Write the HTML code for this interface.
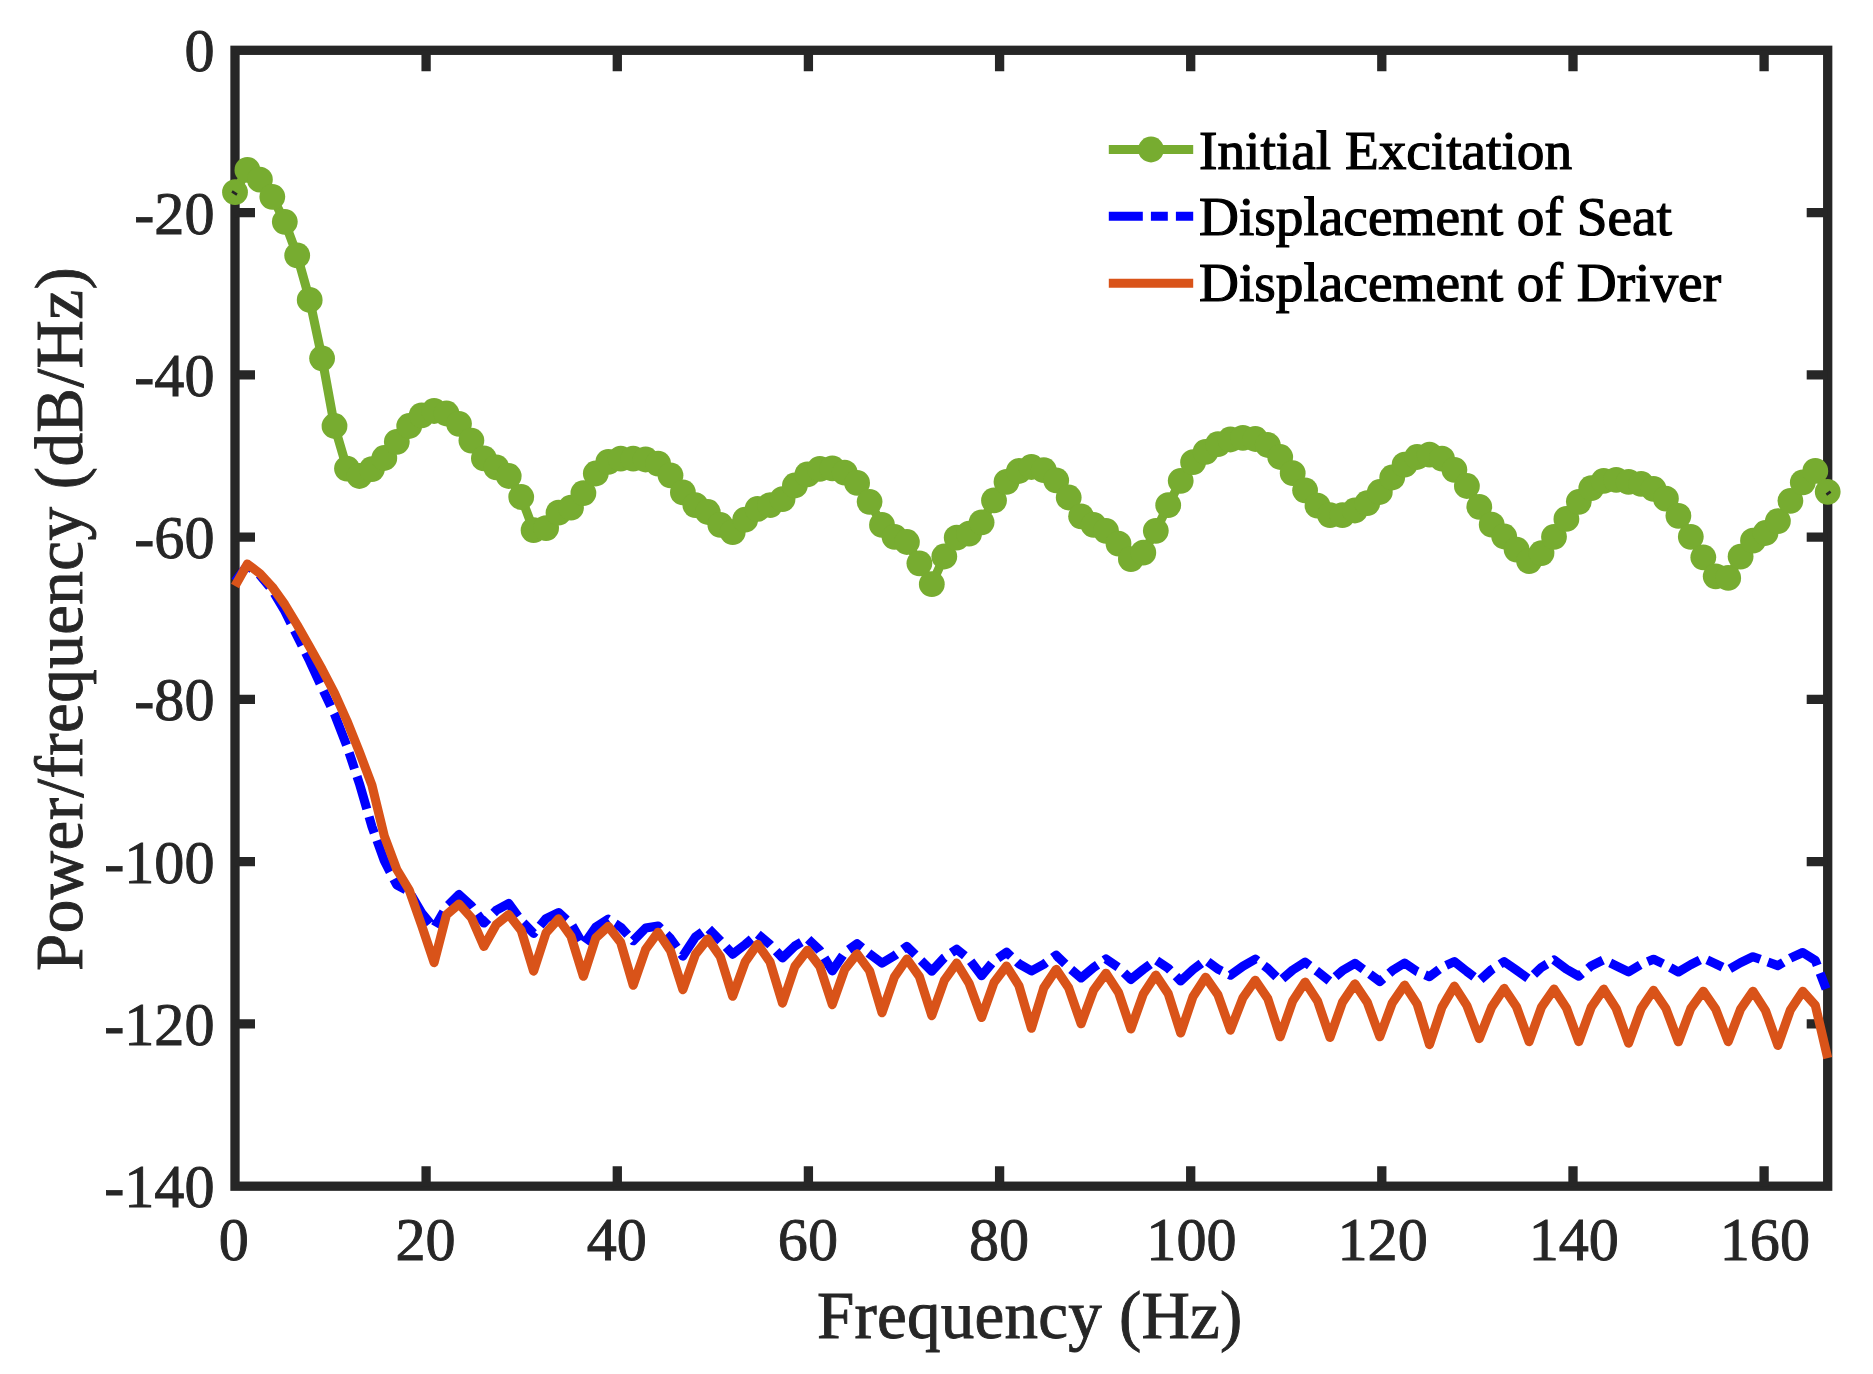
<!DOCTYPE html>
<html lang="en"><head><meta charset="utf-8"><title>Power spectral density</title>
<style>html,body{margin:0;padding:0;background:#fff}body{width:1873px;height:1374px;overflow:hidden}svg{display:block}text{font-family:"Liberation Serif","Times New Roman",Times,serif}</style></head><body>
<svg width="1873" height="1374" viewBox="0 0 1873 1374">
<rect width="1873" height="1374" fill="#fff"/>
<g stroke="#262626" stroke-width="9.3" fill="none" stroke-linecap="butt" stroke-linejoin="miter">
<rect x="235.0" y="50.3" width="1592.7" height="1135.9"/>
<path d="M426.1 1186.2V1166.2M426.1 50.3V71.3M617.3 1186.2V1166.2M617.3 50.3V71.3M808.4 1186.2V1166.2M808.4 50.3V71.3M999.6 1186.2V1166.2M999.6 50.3V71.3M1190.7 1186.2V1166.2M1190.7 50.3V71.3M1381.8 1186.2V1166.2M1381.8 50.3V71.3M1573.0 1186.2V1166.2M1573.0 50.3V71.3M1764.1 1186.2V1166.2M1764.1 50.3V71.3M235.0 212.6H255.0M1827.7 212.6H1806.7M235.0 374.8H255.0M1827.7 374.8H1806.7M235.0 537.1H255.0M1827.7 537.1H1806.7M235.0 699.4H255.0M1827.7 699.4H1806.7M235.0 861.7H255.0M1827.7 861.7H1806.7M235.0 1023.9H255.0M1827.7 1023.9H1806.7"/>
</g>
<g fill="#262626" stroke="#262626" stroke-width="0.9" font-size="60.2">
<g text-anchor="middle">
<text transform="translate(233.8 1259.8) scale(1 1.035)">0</text>
<text transform="translate(425.6 1259.8) scale(1 1.035)">20</text>
<text transform="translate(616.8 1259.8) scale(1 1.035)">40</text>
<text transform="translate(807.9 1259.8) scale(1 1.035)">60</text>
<text transform="translate(999.1 1259.8) scale(1 1.035)">80</text>
<text transform="translate(1191.5 1259.8) scale(1 1.035)">100</text>
<text transform="translate(1382.6 1259.8) scale(1 1.035)">120</text>
<text transform="translate(1573.8 1259.8) scale(1 1.035)">140</text>
<text transform="translate(1764.9 1259.8) scale(1 1.035)">160</text>
</g><g text-anchor="end">
<text transform="translate(214.5 71.3) scale(1 1.035)">0</text>
<text transform="translate(214.5 233.6) scale(1 1.035)">-20</text>
<text transform="translate(214.5 395.8) scale(1 1.035)">-40</text>
<text transform="translate(214.5 558.1) scale(1 1.035)">-60</text>
<text transform="translate(214.5 720.4) scale(1 1.035)">-80</text>
<text transform="translate(214.5 882.7) scale(1 1.035)">-100</text>
<text transform="translate(214.5 1044.9) scale(1 1.035)">-120</text>
<text transform="translate(214.5 1207.2) scale(1 1.035)">-140</text>
</g></g>
<g fill="#262626" stroke="#262626" stroke-width="0.9" font-size="67" text-anchor="middle">
<text x="1029.8" y="1337.5" letter-spacing="0.25">Frequency (Hz)</text>
<text transform="translate(81.5 618.8) rotate(-90)" letter-spacing="0.45">Power/frequency (dB/Hz)</text>
</g>
<g fill="none" stroke-linejoin="round" stroke-linecap="butt" stroke-width="9.1">
<polyline stroke="#77AC30" points="235.0,192.2 247.4,169.9 259.9,179.7 272.3,196.8 284.8,221.8 297.2,255.4 309.7,299.9 322.1,358.3 334.5,426.0 347.0,468.6 359.4,476.0 371.9,469.1 384.3,458.0 396.8,441.8 409.2,426.0 421.6,415.3 434.1,411.0 446.5,413.5 459.0,423.8 471.4,440.6 483.9,458.4 496.3,467.4 508.7,476.0 521.2,497.0 533.6,530.2 546.1,528.1 558.5,512.7 571.0,507.6 583.4,493.1 595.8,473.5 608.3,461.9 620.7,458.7 633.2,458.7 645.6,459.5 658.1,463.6 670.5,475.3 682.9,492.4 695.4,505.2 707.8,512.0 720.3,524.8 732.7,532.2 745.2,519.7 757.6,508.9 770.0,505.2 782.5,499.2 794.9,485.5 807.4,474.4 819.8,468.8 832.3,468.4 844.7,472.7 857.1,482.9 869.6,501.8 882.0,524.9 894.5,536.8 906.9,542.0 919.4,563.3 931.8,584.2 944.3,556.5 956.7,537.7 969.1,533.7 981.6,522.3 994.0,500.4 1006.5,481.8 1018.9,471.0 1031.4,467.0 1043.8,470.1 1056.2,480.4 1068.7,497.5 1081.1,516.3 1093.6,524.9 1106.0,530.8 1118.5,543.7 1130.9,559.1 1143.3,552.7 1155.8,530.8 1168.2,505.2 1180.7,480.8 1193.1,462.2 1205.6,451.8 1218.0,444.1 1230.4,439.5 1242.9,437.8 1255.3,439.0 1267.8,445.0 1280.2,457.0 1292.7,473.2 1305.1,490.3 1317.5,505.7 1330.0,515.1 1342.4,515.1 1354.9,510.5 1367.3,503.1 1379.8,492.0 1392.2,477.5 1404.6,464.7 1417.1,457.0 1429.5,454.7 1442.0,458.7 1454.4,469.8 1466.9,486.0 1479.3,506.9 1491.7,524.7 1504.2,536.5 1516.6,549.6 1529.1,561.1 1541.5,553.1 1554.0,536.8 1566.4,518.9 1578.8,501.8 1591.3,488.1 1603.7,480.9 1616.2,479.9 1628.6,481.8 1641.1,483.8 1653.5,488.9 1665.9,498.7 1678.4,515.8 1690.8,536.8 1703.3,557.3 1715.7,576.3 1728.2,577.9 1740.6,556.6 1753.0,540.7 1765.5,533.0 1777.9,521.1 1790.4,500.8 1802.8,482.3 1815.3,470.9 1827.7,491.8"/>
<g fill="#77AC30" stroke="none">
<circle cx="235.0" cy="192.2" r="12.9"/>
<circle cx="247.4" cy="169.9" r="12.9"/>
<circle cx="259.9" cy="179.7" r="12.9"/>
<circle cx="272.3" cy="196.8" r="12.9"/>
<circle cx="284.8" cy="221.8" r="12.9"/>
<circle cx="297.2" cy="255.4" r="12.9"/>
<circle cx="309.7" cy="299.9" r="12.9"/>
<circle cx="322.1" cy="358.3" r="12.9"/>
<circle cx="334.5" cy="426.0" r="12.9"/>
<circle cx="347.0" cy="468.6" r="12.9"/>
<circle cx="359.4" cy="476.0" r="12.9"/>
<circle cx="371.9" cy="469.1" r="12.9"/>
<circle cx="384.3" cy="458.0" r="12.9"/>
<circle cx="396.8" cy="441.8" r="12.9"/>
<circle cx="409.2" cy="426.0" r="12.9"/>
<circle cx="421.6" cy="415.3" r="12.9"/>
<circle cx="434.1" cy="411.0" r="12.9"/>
<circle cx="446.5" cy="413.5" r="12.9"/>
<circle cx="459.0" cy="423.8" r="12.9"/>
<circle cx="471.4" cy="440.6" r="12.9"/>
<circle cx="483.9" cy="458.4" r="12.9"/>
<circle cx="496.3" cy="467.4" r="12.9"/>
<circle cx="508.7" cy="476.0" r="12.9"/>
<circle cx="521.2" cy="497.0" r="12.9"/>
<circle cx="533.6" cy="530.2" r="12.9"/>
<circle cx="546.1" cy="528.1" r="12.9"/>
<circle cx="558.5" cy="512.7" r="12.9"/>
<circle cx="571.0" cy="507.6" r="12.9"/>
<circle cx="583.4" cy="493.1" r="12.9"/>
<circle cx="595.8" cy="473.5" r="12.9"/>
<circle cx="608.3" cy="461.9" r="12.9"/>
<circle cx="620.7" cy="458.7" r="12.9"/>
<circle cx="633.2" cy="458.7" r="12.9"/>
<circle cx="645.6" cy="459.5" r="12.9"/>
<circle cx="658.1" cy="463.6" r="12.9"/>
<circle cx="670.5" cy="475.3" r="12.9"/>
<circle cx="682.9" cy="492.4" r="12.9"/>
<circle cx="695.4" cy="505.2" r="12.9"/>
<circle cx="707.8" cy="512.0" r="12.9"/>
<circle cx="720.3" cy="524.8" r="12.9"/>
<circle cx="732.7" cy="532.2" r="12.9"/>
<circle cx="745.2" cy="519.7" r="12.9"/>
<circle cx="757.6" cy="508.9" r="12.9"/>
<circle cx="770.0" cy="505.2" r="12.9"/>
<circle cx="782.5" cy="499.2" r="12.9"/>
<circle cx="794.9" cy="485.5" r="12.9"/>
<circle cx="807.4" cy="474.4" r="12.9"/>
<circle cx="819.8" cy="468.8" r="12.9"/>
<circle cx="832.3" cy="468.4" r="12.9"/>
<circle cx="844.7" cy="472.7" r="12.9"/>
<circle cx="857.1" cy="482.9" r="12.9"/>
<circle cx="869.6" cy="501.8" r="12.9"/>
<circle cx="882.0" cy="524.9" r="12.9"/>
<circle cx="894.5" cy="536.8" r="12.9"/>
<circle cx="906.9" cy="542.0" r="12.9"/>
<circle cx="919.4" cy="563.3" r="12.9"/>
<circle cx="931.8" cy="584.2" r="12.9"/>
<circle cx="944.3" cy="556.5" r="12.9"/>
<circle cx="956.7" cy="537.7" r="12.9"/>
<circle cx="969.1" cy="533.7" r="12.9"/>
<circle cx="981.6" cy="522.3" r="12.9"/>
<circle cx="994.0" cy="500.4" r="12.9"/>
<circle cx="1006.5" cy="481.8" r="12.9"/>
<circle cx="1018.9" cy="471.0" r="12.9"/>
<circle cx="1031.4" cy="467.0" r="12.9"/>
<circle cx="1043.8" cy="470.1" r="12.9"/>
<circle cx="1056.2" cy="480.4" r="12.9"/>
<circle cx="1068.7" cy="497.5" r="12.9"/>
<circle cx="1081.1" cy="516.3" r="12.9"/>
<circle cx="1093.6" cy="524.9" r="12.9"/>
<circle cx="1106.0" cy="530.8" r="12.9"/>
<circle cx="1118.5" cy="543.7" r="12.9"/>
<circle cx="1130.9" cy="559.1" r="12.9"/>
<circle cx="1143.3" cy="552.7" r="12.9"/>
<circle cx="1155.8" cy="530.8" r="12.9"/>
<circle cx="1168.2" cy="505.2" r="12.9"/>
<circle cx="1180.7" cy="480.8" r="12.9"/>
<circle cx="1193.1" cy="462.2" r="12.9"/>
<circle cx="1205.6" cy="451.8" r="12.9"/>
<circle cx="1218.0" cy="444.1" r="12.9"/>
<circle cx="1230.4" cy="439.5" r="12.9"/>
<circle cx="1242.9" cy="437.8" r="12.9"/>
<circle cx="1255.3" cy="439.0" r="12.9"/>
<circle cx="1267.8" cy="445.0" r="12.9"/>
<circle cx="1280.2" cy="457.0" r="12.9"/>
<circle cx="1292.7" cy="473.2" r="12.9"/>
<circle cx="1305.1" cy="490.3" r="12.9"/>
<circle cx="1317.5" cy="505.7" r="12.9"/>
<circle cx="1330.0" cy="515.1" r="12.9"/>
<circle cx="1342.4" cy="515.1" r="12.9"/>
<circle cx="1354.9" cy="510.5" r="12.9"/>
<circle cx="1367.3" cy="503.1" r="12.9"/>
<circle cx="1379.8" cy="492.0" r="12.9"/>
<circle cx="1392.2" cy="477.5" r="12.9"/>
<circle cx="1404.6" cy="464.7" r="12.9"/>
<circle cx="1417.1" cy="457.0" r="12.9"/>
<circle cx="1429.5" cy="454.7" r="12.9"/>
<circle cx="1442.0" cy="458.7" r="12.9"/>
<circle cx="1454.4" cy="469.8" r="12.9"/>
<circle cx="1466.9" cy="486.0" r="12.9"/>
<circle cx="1479.3" cy="506.9" r="12.9"/>
<circle cx="1491.7" cy="524.7" r="12.9"/>
<circle cx="1504.2" cy="536.5" r="12.9"/>
<circle cx="1516.6" cy="549.6" r="12.9"/>
<circle cx="1529.1" cy="561.1" r="12.9"/>
<circle cx="1541.5" cy="553.1" r="12.9"/>
<circle cx="1554.0" cy="536.8" r="12.9"/>
<circle cx="1566.4" cy="518.9" r="12.9"/>
<circle cx="1578.8" cy="501.8" r="12.9"/>
<circle cx="1591.3" cy="488.1" r="12.9"/>
<circle cx="1603.7" cy="480.9" r="12.9"/>
<circle cx="1616.2" cy="479.9" r="12.9"/>
<circle cx="1628.6" cy="481.8" r="12.9"/>
<circle cx="1641.1" cy="483.8" r="12.9"/>
<circle cx="1653.5" cy="488.9" r="12.9"/>
<circle cx="1665.9" cy="498.7" r="12.9"/>
<circle cx="1678.4" cy="515.8" r="12.9"/>
<circle cx="1690.8" cy="536.8" r="12.9"/>
<circle cx="1703.3" cy="557.3" r="12.9"/>
<circle cx="1715.7" cy="576.3" r="12.9"/>
<circle cx="1728.2" cy="577.9" r="12.9"/>
<circle cx="1740.6" cy="556.6" r="12.9"/>
<circle cx="1753.0" cy="540.7" r="12.9"/>
<circle cx="1765.5" cy="533.0" r="12.9"/>
<circle cx="1777.9" cy="521.1" r="12.9"/>
<circle cx="1790.4" cy="500.8" r="12.9"/>
<circle cx="1802.8" cy="482.3" r="12.9"/>
<circle cx="1815.3" cy="470.9" r="12.9"/>
<circle cx="1827.7" cy="491.8" r="12.9"/>
</g>
<path stroke="#262626" stroke-width="2.6" d="M232 191.3L237 194.6M1826.4 494.6L1830.6 491.6"/>
<polyline stroke="#0000FF" stroke-dasharray="34 8.1 16.9 8.1" stroke-dashoffset="7.5" points="235.0,581.6 247.4,565.4 259.9,575.0 272.3,590.0 284.8,611.0 297.2,636.0 309.7,661.0 322.1,688.0 334.5,714.2 347.0,746.3 359.4,783.6 371.9,826.5 384.3,860.7 396.8,885.0 409.2,891.6 421.6,912.8 434.1,928.2 446.5,907.0 459.0,894.6 471.4,905.8 483.9,923.0 496.3,910.3 508.7,903.5 521.2,920.7 533.6,933.4 546.1,918.5 558.5,912.5 571.0,923.7 583.4,945.0 595.8,927.2 608.3,919.2 620.7,927.2 633.2,940.8 645.6,928.1 658.1,926.0 670.5,938.5 682.9,956.1 695.4,937.0 707.8,928.0 720.3,940.7 732.7,954.2 745.2,944.5 757.6,934.0 770.0,944.5 782.5,957.9 794.9,946.0 807.4,938.5 819.8,950.4 832.3,970.9 844.7,952.7 857.1,943.7 869.6,953.9 882.0,963.2 894.5,955.7 906.9,946.4 919.4,958.9 931.8,971.2 944.3,957.7 956.7,949.2 969.1,959.2 981.6,975.7 994.0,960.7 1006.5,952.2 1018.9,963.7 1031.4,970.9 1043.8,964.2 1056.2,955.2 1068.7,967.5 1081.1,977.9 1093.6,967.5 1106.0,958.9 1118.5,967.5 1130.9,979.4 1143.3,969.4 1155.8,960.0 1168.2,968.2 1180.7,981.0 1193.1,969.5 1205.6,960.0 1218.0,969.2 1230.4,975.2 1242.9,966.2 1255.3,959.1 1267.8,968.5 1280.2,980.7 1292.7,970.0 1305.1,962.2 1317.5,971.5 1330.0,981.5 1342.4,970.7 1354.9,963.3 1367.3,972.2 1379.8,981.5 1392.2,970.7 1404.6,963.0 1417.1,971.5 1429.5,976.7 1442.0,967.3 1454.4,961.6 1466.9,971.5 1479.3,980.7 1491.7,969.5 1504.2,961.6 1516.6,970.3 1529.1,979.2 1541.5,967.3 1554.0,959.8 1566.4,969.1 1578.8,976.2 1591.3,965.8 1603.7,959.8 1616.2,965.8 1628.6,971.8 1641.1,964.3 1653.5,959.2 1665.9,965.1 1678.4,972.0 1690.8,964.6 1703.3,958.2 1715.7,963.8 1728.2,969.8 1740.6,962.6 1753.0,956.7 1765.5,961.2 1777.9,965.6 1790.4,958.2 1802.8,952.5 1815.3,960.4 1827.7,993.0"/>
<polyline stroke="#D95319" points="235.0,586.0 247.4,564.0 259.9,573.5 272.3,587.0 284.8,604.5 297.2,625.0 309.7,647.0 322.1,669.3 334.5,693.0 347.0,721.0 359.4,752.0 371.9,785.2 384.3,836.0 396.8,869.5 409.2,890.0 421.6,925.2 434.1,962.6 446.5,914.7 459.0,904.0 471.4,917.7 483.9,946.4 496.3,924.5 508.7,914.5 521.2,930.4 533.6,971.1 546.1,932.7 558.5,918.9 571.0,936.4 583.4,976.3 595.8,937.9 608.3,926.4 620.7,942.4 633.2,985.3 645.6,949.4 658.1,932.3 670.5,950.7 682.9,989.6 695.4,954.4 707.8,938.9 720.3,956.7 732.7,996.3 745.2,961.9 757.6,944.2 770.0,961.9 782.5,1003.1 794.9,966.4 807.4,950.2 819.8,966.4 832.3,1004.6 844.7,969.4 857.1,953.9 869.6,970.9 882.0,1012.8 894.5,976.8 906.9,959.0 919.4,976.7 931.8,1015.6 944.3,980.4 956.7,963.1 969.1,983.4 981.6,1017.5 994.0,982.6 1006.5,966.1 1018.9,985.6 1031.4,1028.3 1043.8,987.9 1056.2,969.4 1068.7,987.9 1081.1,1023.8 1093.6,990.1 1106.0,973.2 1118.5,992.4 1130.9,1029.0 1143.3,993.9 1155.8,975.1 1168.2,993.6 1180.7,1033.0 1193.1,996.4 1205.6,977.2 1218.0,994.9 1230.4,1030.1 1242.9,997.9 1255.3,980.2 1267.8,998.6 1280.2,1036.8 1292.7,1000.9 1305.1,982.1 1317.5,1000.9 1330.0,1037.5 1342.4,1002.4 1354.9,983.9 1367.3,1002.4 1379.8,1036.8 1392.2,1003.1 1404.6,985.1 1417.1,1003.9 1429.5,1044.6 1442.0,1007.1 1454.4,986.1 1466.9,1005.6 1479.3,1038.6 1491.7,1007.1 1504.2,988.4 1516.6,1007.1 1529.1,1041.6 1541.5,1007.1 1554.0,989.1 1566.4,1007.9 1578.8,1041.6 1591.3,1007.1 1603.7,989.1 1616.2,1008.6 1628.6,1043.1 1641.1,1008.6 1653.5,990.3 1665.9,1008.5 1678.4,1041.8 1690.8,1008.5 1703.3,991.2 1715.7,1009.1 1728.2,1041.7 1740.6,1009.1 1753.0,991.2 1765.5,1010.6 1777.9,1045.4 1790.4,1009.9 1802.8,991.2 1815.3,1005.2 1827.7,1058.1"/>
</g>
<g fill="none" stroke-width="9.1">
<path stroke="#77AC30" d="M1108.8 149.5H1193.2"/><circle cx="1151" cy="149.5" r="12.9" fill="#77AC30"/>
<path stroke="#0000FF" stroke-dasharray="34 8.1 16.9 8.1" d="M1108.8 216.3H1193.2"/>
<path stroke="#D95319" d="M1108.8 283.2H1193.2"/>
</g>
<g fill="#000" stroke="#000" stroke-width="1.2" font-size="55.3">
<text x="1199" y="168.8">Initial Excitation</text>
<text x="1199" y="234.8">Displacement of Seat</text>
<text x="1199" y="301.4">Displacement of Driver</text>
</g>
</svg></body></html>
